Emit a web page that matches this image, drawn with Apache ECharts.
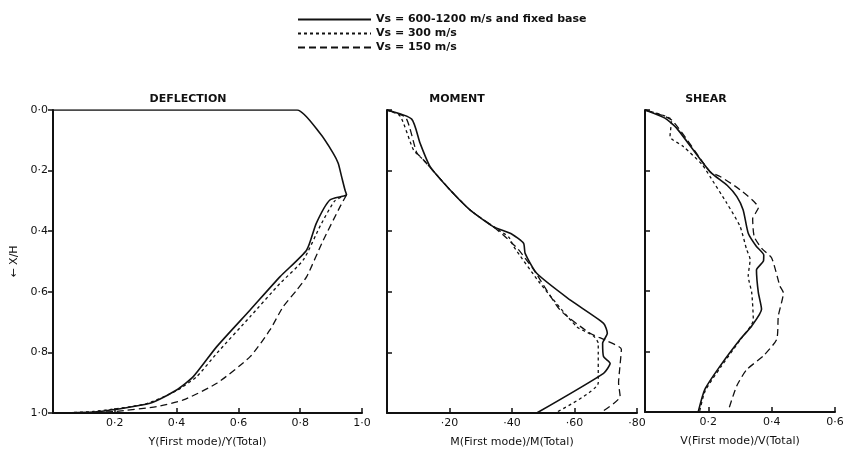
<!DOCTYPE html>
<html>
<head>
<meta charset="utf-8">
<script src="https://cdn.jsdelivr.net/npm/echarts@6/dist/echarts.min.js"></script>
<style>
  html, body { margin: 0; padding: 0; background: #fff; }
  #main { width: 848px; height: 455px; }
</style>
</head>
<body>
<div id="main"></div>
<script>
// legend names
var seriesNames = ['Vs = 600-1200 m/s and fixed base', 'Vs = 300 m/s', 'Vs = 150 m/s'];
var panelTitles = ['DEFLECTION', 'MOMENT', 'SHEAR'];
var axisNames = ['Y(First mode)/Y(Total)', 'M(First mode)/M(Total)', 'V(First mode)/V(Total)'];
var depthTicks = [0, 0.2, 0.4, 0.6, 0.8, 1.0];

// [ratio, X/H] pairs
var deflFixed = [[0, 0], [0.79, 0], [0.864, 0.077], [0.907, 0.143], [0.923, 0.176], [0.934, 0.22],
    [0.945, 0.264], [0.95, 0.28], [0.896, 0.297], [0.852, 0.374], [0.821, 0.462], [0.735, 0.55],
    [0.638, 0.66], [0.53, 0.781], [0.454, 0.88], [0.4, 0.924], [0.314, 0.968], [0.15, 0.995],
    [0.01, 1.0]];
var defl300 = [[0.95, 0.28], [0.912, 0.3], [0.866, 0.38], [0.81, 0.495], [0.735, 0.572],
    [0.638, 0.682], [0.53, 0.803], [0.465, 0.88], [0.4, 0.926], [0.3, 0.97], [0.13, 0.995],
    [0.01, 1.0]];
var defl150 = [[0.95, 0.28], [0.929, 0.319], [0.875, 0.429], [0.821, 0.55], [0.789, 0.594],
    [0.745, 0.649], [0.702, 0.726], [0.638, 0.814], [0.53, 0.902], [0.422, 0.957], [0.336, 0.979],
    [0.2, 0.995], [0.1, 1.0]];

var momFixed = [[0, 0], [0.079, 0.03], [0.106, 0.11], [0.138, 0.187], [0.202, 0.264], [0.266, 0.33],
    [0.34, 0.385], [0.4, 0.41], [0.437, 0.44], [0.442, 0.473], [0.479, 0.539], [0.586, 0.627],
    [0.693, 0.704], [0.705, 0.737], [0.69, 0.77], [0.693, 0.814], [0.714, 0.836], [0.693, 0.869],
    [0.479, 1.0]];
var mom300 = [[0, 0], [0.042, 0.02], [0.085, 0.132], [0.117, 0.165], [0.202, 0.264], [0.266, 0.33],
    [0.34, 0.385], [0.39, 0.42], [0.405, 0.45], [0.49, 0.572], [0.607, 0.715], [0.66, 0.745],
    [0.676, 0.77], [0.676, 0.9], [0.538, 1.0]];
var mom150 = [[0, 0], [0.06, 0.025], [0.095, 0.14], [0.117, 0.165], [0.202, 0.264], [0.266, 0.33],
    [0.34, 0.385], [0.38, 0.42], [0.42, 0.46], [0.47, 0.528], [0.554, 0.66], [0.65, 0.737],
    [0.7, 0.76], [0.75, 0.79], [0.745, 0.85], [0.741, 0.9], [0.746, 0.945], [0.682, 1.0]];

var shrFixed = [[0, 0], [0.063, 0.027], [0.1, 0.06], [0.205, 0.204], [0.26, 0.25], [0.29, 0.287],
    [0.31, 0.331], [0.326, 0.408], [0.352, 0.452], [0.375, 0.48], [0.374, 0.5], [0.352, 0.53],
    [0.358, 0.605], [0.368, 0.66], [0.337, 0.715], [0.3, 0.76], [0.237, 0.848], [0.189, 0.925],
    [0.168, 1.0]];
var shr300 = [[0, 0], [0.084, 0.033], [0.079, 0.088], [0.121, 0.121], [0.18, 0.18], [0.205, 0.22],
    [0.258, 0.308], [0.3, 0.385], [0.321, 0.462], [0.332, 0.495], [0.326, 0.55], [0.337, 0.605],
    [0.342, 0.695], [0.3, 0.762], [0.24, 0.85], [0.19, 0.93], [0.172, 1.0]];
var shr150 = [[0, 0], [0.084, 0.033], [0.205, 0.204], [0.237, 0.22], [0.3, 0.264], [0.358, 0.324],
    [0.34, 0.36], [0.345, 0.42], [0.37, 0.46], [0.4, 0.49], [0.426, 0.583], [0.437, 0.605],
    [0.421, 0.682], [0.416, 0.759], [0.374, 0.814], [0.321, 0.86], [0.29, 0.913], [0.263, 0.995]];

var ink = '#111';
var font = 'DejaVu Sans';
var dashes = ['solid', [3, 3], [7, 4]];
var panelData = [[deflFixed, defl300, defl150], [momFixed, mom300, mom150], [shrFixed, shr300, shr150]];
var xMax = [1.0, 0.8, 0.6];

function dotted(v) { return v.toFixed(1).replace('.', '·'); }

var grids = [
    { left: 53, top: 110, width: 309, height: 303 },
    { left: 387, top: 110, width: 250, height: 303 },
    { left: 645, top: 110, width: 190, height: 302 }
];

var xAxes = [], yAxes = [], series = [];
for (let i = 0; i < 3; i++) {
    xAxes.push({
        type: 'value', gridIndex: i, min: 0, max: xMax[i], interval: 0.2,
        name: axisNames[i], nameLocation: 'middle', nameGap: 24,
        nameTextStyle: { color: ink, fontFamily: font, fontSize: 11 },
        axisLine: { onZero: false, lineStyle: { color: ink, width: 2 } },
        axisTick: { inside: true, length: 5, lineStyle: { color: ink, width: 1.5 } },
        splitLine: { show: false },
        axisLabel: {
            color: ink, fontFamily: font, fontSize: 11, margin: 5,
            formatter: function (v) {
                if (v === 0) return '';
                return i === 1 ? '·' + Math.round(v * 100) : dotted(v);
            }
        }
    });
    yAxes.push({
        type: 'value', gridIndex: i, min: 0, max: 1, interval: 0.2, inverse: true,
        name: i === 0 ? '← X/H' : '', nameLocation: 'middle', nameGap: 33,
        nameTextStyle: { color: ink, fontFamily: font, fontSize: 11 },
        axisLine: { show: true, onZero: false, lineStyle: { color: ink, width: 2 } },
        axisTick: { show: true, inside: i !== 0, length: 5, lineStyle: { color: ink, width: 1.5 } },
        splitLine: { show: false },
        axisLabel: {
            show: i === 0, color: ink, fontFamily: font, fontSize: 11, margin: 5,
            formatter: function (v) { return dotted(v); }
        }
    });
    for (let k = 0; k < 3; k++) {
        series.push({
            type: 'line', name: seriesNames[k], xAxisIndex: i, yAxisIndex: i,
            data: panelData[i][k], showSymbol: false, symbol: 'none', smooth: 0.2,
            lineStyle: { color: ink, width: k === 0 ? 1.6 : 1.3, type: dashes[k] },
            z: 3 - k
        });
    }
}

var myChart = echarts.init(document.getElementById('main'));
var option = {
    backgroundColor: '#fff',
    animation: false,
    title: panelTitles.map(function (t, i) {
        return {
            text: t, left: [183, 452, 701][i], top: 89, textAlign: 'center',
            textStyle: { color: ink, fontFamily: font, fontSize: 11, fontWeight: 'bold' }
        };
    }),
    legend: {
        data: seriesNames, orient: 'vertical', left: 292, top: 9,
        itemWidth: 73, itemHeight: 12, itemGap: 3, itemStyle: { opacity: 0 },
        textStyle: { color: ink, fontFamily: font, fontSize: 11, fontWeight: 'bold' },
        selectedMode: false
    },
    grid: grids,
    xAxis: xAxes,
    yAxis: yAxes,
    series: series
};
myChart.setOption(option);
</script>
</body>
</html>
